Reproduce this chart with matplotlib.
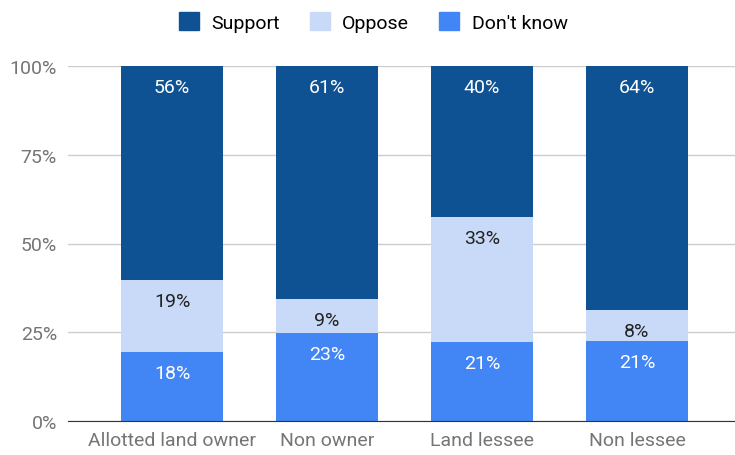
import numpy as np
import matplotlib.pyplot as plt
from matplotlib.patches import Patch

plt.rcParams['font.family'] = ['Roboto', 'DejaVu Sans']

groups = ['Allotted land owner', 'Non owner', 'Land lessee', 'Non lessee']
support = [56, 61, 40, 64]
oppose = [19, 9, 33, 8]
dont_know = [18, 23, 21, 21]

c_support = '#0f5294'
c_oppose = '#c9daf8'
c_dont = '#4285f4'

# stack as shares of each group's total
tot = np.array(support) + np.array(oppose) + np.array(dont_know)
s_dk = np.array(dont_know) / tot * 100
s_op = np.array(oppose) / tot * 100
s_su = np.array(support) / tot * 100

fig = plt.figure(figsize=(7.35, 4.56), dpi=100)
ax = fig.add_axes([68 / 735, 1 - 422 / 456, 667 / 735, 355 / 456])

x = np.arange(len(groups))
w = 0.66
ax.bar(x, s_dk, w, color=c_dont, zorder=2)
ax.bar(x, s_op, w, bottom=s_dk, color=c_oppose, zorder=2)
ax.bar(x, s_su, w, bottom=s_dk + s_op, color=c_support, zorder=2)

# value labels just under the top of each segment
for i in range(len(groups)):
    top_dk = s_dk[i]
    top_op = s_dk[i] + s_op[i]
    ax.annotate(f'{dont_know[i]}%', (x[i], top_dk), xytext=(0, -15), textcoords='offset points',
                ha='center', va='center', fontsize=14, color='white')
    ax.annotate(f'{oppose[i]}%', (x[i], top_op), xytext=(0, -15), textcoords='offset points',
                ha='center', va='center', fontsize=14, color='#222222')
    ax.annotate(f'{support[i]}%', (x[i], 100), xytext=(0, -15), textcoords='offset points',
                ha='center', va='center', fontsize=14, color='white')

ax.set_xlim(-0.671, 3.632)
ax.set_ylim(0, 100)
ax.set_yticks([0, 25, 50, 75, 100])
ax.set_yticklabels(['0%', '25%', '50%', '75%', '100%'])
ax.set_xticks(x)
ax.set_xticklabels(groups)
ax.tick_params(axis='both', length=0, labelsize=14, colors='#757575')
ax.tick_params(axis='y', pad=8)
ax.tick_params(axis='x', pad=7)
ax.grid(axis='y', color='#cccccc', linewidth=1, zorder=0)
for side in ['top', 'right', 'left']:
    ax.spines[side].set_visible(False)
ax.spines['bottom'].set_color('#333333')
ax.spines['bottom'].set_zorder(3)

handles = [Patch(color=c_support), Patch(color=c_oppose), Patch(color=c_dont)]
fig.legend(handles, ['Support', 'Oppose', "Don't know"], loc='center',
           bbox_to_anchor=(0.5 + 6 / 735, 1 - 23 / 456),
           ncol=3, frameon=False, fontsize=14, handlelength=1.0, handleheight=1.0,
           columnspacing=1.55, handletextpad=0.65)

fig.savefig('out.png', dpi=100)
